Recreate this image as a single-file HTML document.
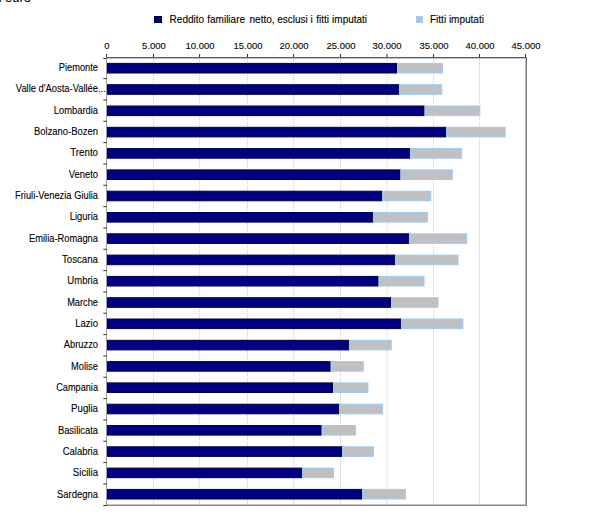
<!DOCTYPE html>
<html><head><meta charset="utf-8"><style>
html,body{margin:0;padding:0;background:#fff;width:610px;height:526px;overflow:hidden;}
body{position:relative;font-family:"Liberation Sans",sans-serif;color:#000;}
div{position:absolute;box-sizing:border-box;}
svg{position:absolute;left:0;top:0;}
.t{white-space:nowrap;font-size:10px;line-height:12px;-webkit-text-stroke:0.1px #000;}
.cl{text-align:right;width:200px;transform-origin:100% 50%;}
.xl{text-align:center;width:60px;transform:scale(0.95,0.92);transform-origin:50% 1px;}
</style></head><body>

<svg width="610" height="526" viewBox="0 0 610 526">
<line x1="153.5" y1="58" x2="153.5" y2="504" stroke="#cccccc" stroke-width="1" stroke-dasharray="1 1" stroke-dashoffset="1"/>
<line x1="199.6" y1="58" x2="199.6" y2="504" stroke="#cccccc" stroke-width="1" stroke-dasharray="1 1" stroke-dashoffset="1"/>
<line x1="247.5" y1="58" x2="247.5" y2="504" stroke="#cccccc" stroke-width="1" stroke-dasharray="1 1" stroke-dashoffset="1"/>
<line x1="293.6" y1="58" x2="293.6" y2="504" stroke="#cccccc" stroke-width="1" stroke-dasharray="1 1" stroke-dashoffset="1"/>
<line x1="340.5" y1="58" x2="340.5" y2="504" stroke="#cccccc" stroke-width="1" stroke-dasharray="1 1" stroke-dashoffset="1"/>
<line x1="387.0" y1="58" x2="387.0" y2="504" stroke="#cccccc" stroke-width="1" stroke-dasharray="1 1" stroke-dashoffset="1"/>
<line x1="433.5" y1="58" x2="433.5" y2="504" stroke="#cccccc" stroke-width="1" stroke-dasharray="1 1" stroke-dashoffset="1"/>
<line x1="479.5" y1="58" x2="479.5" y2="504" stroke="#cccccc" stroke-width="1" stroke-dasharray="1 1" stroke-dashoffset="1"/>
<g shape-rendering="crispEdges">
<rect x="106" y="57" width="421" height="1" fill="#5a5a5a"/>
<rect x="106" y="58" width="420" height="1" fill="#c4c4c4"/>
<rect x="106" y="57" width="1" height="449" fill="#a0a0a0"/>
<rect x="525" y="58" width="1" height="447" fill="#bcbcbc"/>
<rect x="526" y="57" width="1" height="449" fill="#7c7c7c"/>
<rect x="107" y="504" width="418" height="1" fill="#c4c4c4"/>
<rect x="106" y="505" width="421" height="1" fill="#8c8c8c"/>
</g>
<line x1="106.5" y1="54" x2="106.5" y2="57" stroke="#303030" stroke-width="1"/>
<line x1="153.5" y1="54" x2="153.5" y2="57" stroke="#303030" stroke-width="1"/>
<line x1="199.6" y1="54" x2="199.6" y2="57" stroke="#303030" stroke-width="1"/>
<line x1="247.5" y1="54" x2="247.5" y2="57" stroke="#303030" stroke-width="1"/>
<line x1="293.6" y1="54" x2="293.6" y2="57" stroke="#303030" stroke-width="1"/>
<line x1="340.5" y1="54" x2="340.5" y2="57" stroke="#303030" stroke-width="1"/>
<line x1="387.0" y1="54" x2="387.0" y2="57" stroke="#303030" stroke-width="1"/>
<line x1="433.5" y1="54" x2="433.5" y2="57" stroke="#303030" stroke-width="1"/>
<line x1="479.5" y1="54" x2="479.5" y2="57" stroke="#303030" stroke-width="1"/>
<line x1="525.5" y1="54" x2="525.5" y2="57" stroke="#303030" stroke-width="1"/>
<line x1="103.3" y1="58.50" x2="106.8" y2="58.50" stroke="#303030" stroke-width="1"/>
<line x1="103.3" y1="78.63" x2="106.8" y2="78.63" stroke="#303030" stroke-width="1"/>
<line x1="103.3" y1="99.96" x2="106.8" y2="99.96" stroke="#303030" stroke-width="1"/>
<line x1="103.3" y1="121.29" x2="106.8" y2="121.29" stroke="#303030" stroke-width="1"/>
<line x1="103.3" y1="142.62" x2="106.8" y2="142.62" stroke="#303030" stroke-width="1"/>
<line x1="103.3" y1="163.95" x2="106.8" y2="163.95" stroke="#303030" stroke-width="1"/>
<line x1="103.3" y1="185.28" x2="106.8" y2="185.28" stroke="#303030" stroke-width="1"/>
<line x1="103.3" y1="206.61" x2="106.8" y2="206.61" stroke="#303030" stroke-width="1"/>
<line x1="103.3" y1="227.94" x2="106.8" y2="227.94" stroke="#303030" stroke-width="1"/>
<line x1="103.3" y1="249.27" x2="106.8" y2="249.27" stroke="#303030" stroke-width="1"/>
<line x1="103.3" y1="270.60" x2="106.8" y2="270.60" stroke="#303030" stroke-width="1"/>
<line x1="103.3" y1="291.93" x2="106.8" y2="291.93" stroke="#303030" stroke-width="1"/>
<line x1="103.3" y1="313.26" x2="106.8" y2="313.26" stroke="#303030" stroke-width="1"/>
<line x1="103.3" y1="334.59" x2="106.8" y2="334.59" stroke="#303030" stroke-width="1"/>
<line x1="103.3" y1="355.92" x2="106.8" y2="355.92" stroke="#303030" stroke-width="1"/>
<line x1="103.3" y1="377.25" x2="106.8" y2="377.25" stroke="#303030" stroke-width="1"/>
<line x1="103.3" y1="398.58" x2="106.8" y2="398.58" stroke="#303030" stroke-width="1"/>
<line x1="103.3" y1="419.91" x2="106.8" y2="419.91" stroke="#303030" stroke-width="1"/>
<line x1="103.3" y1="441.24" x2="106.8" y2="441.24" stroke="#303030" stroke-width="1"/>
<line x1="103.3" y1="462.57" x2="106.8" y2="462.57" stroke="#303030" stroke-width="1"/>
<line x1="103.3" y1="483.90" x2="106.8" y2="483.90" stroke="#303030" stroke-width="1"/>
<line x1="103.3" y1="505.50" x2="106.8" y2="505.50" stroke="#303030" stroke-width="1"/>
<rect x="107.5" y="63.40" width="289.00" height="9.6" fill="#000080" stroke="#00004c" stroke-width="1"/>
<rect x="397.5" y="63.40" width="45.00" height="9.6" fill="#c0c0c0" stroke="#99ccff" stroke-width="1"/>
<rect x="107.5" y="84.70" width="291.30" height="9.6" fill="#000080" stroke="#00004c" stroke-width="1"/>
<rect x="399.8" y="84.70" width="42.00" height="9.6" fill="#c0c0c0" stroke="#99ccff" stroke-width="1"/>
<rect x="107.5" y="106.00" width="316.60" height="9.6" fill="#000080" stroke="#00004c" stroke-width="1"/>
<rect x="425.1" y="106.00" width="54.70" height="9.6" fill="#c0c0c0" stroke="#99ccff" stroke-width="1"/>
<rect x="107.5" y="127.30" width="338.10" height="9.6" fill="#000080" stroke="#00004c" stroke-width="1"/>
<rect x="446.6" y="127.30" width="58.60" height="9.6" fill="#c0c0c0" stroke="#99ccff" stroke-width="1"/>
<rect x="107.5" y="148.60" width="302.30" height="9.6" fill="#000080" stroke="#00004c" stroke-width="1"/>
<rect x="410.8" y="148.60" width="50.90" height="9.6" fill="#c0c0c0" stroke="#99ccff" stroke-width="1"/>
<rect x="107.5" y="169.90" width="292.50" height="9.6" fill="#000080" stroke="#00004c" stroke-width="1"/>
<rect x="401.0" y="169.90" width="51.30" height="9.6" fill="#c0c0c0" stroke="#99ccff" stroke-width="1"/>
<rect x="107.5" y="191.20" width="274.00" height="9.6" fill="#000080" stroke="#00004c" stroke-width="1"/>
<rect x="382.5" y="191.20" width="48.30" height="9.6" fill="#c0c0c0" stroke="#99ccff" stroke-width="1"/>
<rect x="107.5" y="212.50" width="265.30" height="9.6" fill="#000080" stroke="#00004c" stroke-width="1"/>
<rect x="373.8" y="212.50" width="53.60" height="9.6" fill="#c0c0c0" stroke="#99ccff" stroke-width="1"/>
<rect x="107.5" y="233.80" width="301.20" height="9.6" fill="#000080" stroke="#00004c" stroke-width="1"/>
<rect x="409.7" y="233.80" width="56.90" height="9.6" fill="#c0c0c0" stroke="#99ccff" stroke-width="1"/>
<rect x="107.5" y="255.10" width="287.20" height="9.6" fill="#000080" stroke="#00004c" stroke-width="1"/>
<rect x="395.7" y="255.10" width="62.30" height="9.6" fill="#c0c0c0" stroke="#99ccff" stroke-width="1"/>
<rect x="107.5" y="276.40" width="270.60" height="9.6" fill="#000080" stroke="#00004c" stroke-width="1"/>
<rect x="379.1" y="276.40" width="44.90" height="9.6" fill="#c0c0c0" stroke="#99ccff" stroke-width="1"/>
<rect x="107.5" y="297.70" width="283.00" height="9.6" fill="#000080" stroke="#00004c" stroke-width="1"/>
<rect x="391.5" y="297.70" width="46.50" height="9.6" fill="#c0c0c0" stroke="#99ccff" stroke-width="1"/>
<rect x="107.5" y="319.00" width="293.20" height="9.6" fill="#000080" stroke="#00004c" stroke-width="1"/>
<rect x="401.7" y="319.00" width="61.20" height="9.6" fill="#c0c0c0" stroke="#99ccff" stroke-width="1"/>
<rect x="107.5" y="340.30" width="241.20" height="9.6" fill="#000080" stroke="#00004c" stroke-width="1"/>
<rect x="349.7" y="340.30" width="41.50" height="9.6" fill="#c0c0c0" stroke="#99ccff" stroke-width="1"/>
<rect x="107.5" y="361.60" width="222.70" height="9.6" fill="#000080" stroke="#00004c" stroke-width="1"/>
<rect x="331.2" y="361.60" width="32.10" height="9.6" fill="#c0c0c0" stroke="#99ccff" stroke-width="1"/>
<rect x="107.5" y="382.90" width="225.00" height="9.6" fill="#000080" stroke="#00004c" stroke-width="1"/>
<rect x="333.5" y="382.90" width="34.40" height="9.6" fill="#c0c0c0" stroke="#99ccff" stroke-width="1"/>
<rect x="107.5" y="404.20" width="231.00" height="9.6" fill="#000080" stroke="#00004c" stroke-width="1"/>
<rect x="339.5" y="404.20" width="43.10" height="9.6" fill="#c0c0c0" stroke="#99ccff" stroke-width="1"/>
<rect x="107.5" y="425.50" width="213.70" height="9.6" fill="#000080" stroke="#00004c" stroke-width="1"/>
<rect x="322.2" y="425.50" width="33.20" height="9.6" fill="#c0c0c0" stroke="#99ccff" stroke-width="1"/>
<rect x="107.5" y="446.80" width="234.00" height="9.6" fill="#000080" stroke="#00004c" stroke-width="1"/>
<rect x="342.5" y="446.80" width="31.00" height="9.6" fill="#c0c0c0" stroke="#99ccff" stroke-width="1"/>
<rect x="107.5" y="468.10" width="194.10" height="9.6" fill="#000080" stroke="#00004c" stroke-width="1"/>
<rect x="302.6" y="468.10" width="30.90" height="9.6" fill="#c0c0c0" stroke="#99ccff" stroke-width="1"/>
<rect x="107.5" y="489.40" width="254.00" height="9.6" fill="#000080" stroke="#00004c" stroke-width="1"/>
<rect x="362.5" y="489.40" width="43.10" height="9.6" fill="#c0c0c0" stroke="#99ccff" stroke-width="1"/>
<rect x="154.5" y="16.5" width="7" height="6" fill="#000080" stroke="#00004c" stroke-width="1"/>
<rect x="416.5" y="16.5" width="6" height="6" fill="#c0c0c0" stroke="#99ccff" stroke-width="1"/>
</svg>
<div class="t" style="left:-100px;width:131px;text-align:right;top:-9px;font-size:13px;line-height:14px;">valori in euro</div>
<div class="t" style="left:170px;top:14px;"><span style="position:relative;left:-0.4px;">Reddito</span> familiare <span style="position:relative;left:1.7px;">netto,</span> <span style="position:relative;left:1.5px;">esclusi</span> <span style="position:relative;left:1.6px;">i</span> <span style="position:relative;left:2.2px;">fitti</span> <span style="position:relative;left:2.5px;">imputati</span></div>
<div class="t" style="left:430px;top:14px;">Fitti imputati</div>
<div class="t xl" style="left:77.10px;top:41.4px;">0</div>
<div class="t xl" style="left:123.50px;top:41.4px;">5.000</div>
<div class="t xl" style="left:169.60px;top:41.4px;">10.000</div>
<div class="t xl" style="left:217.50px;top:41.4px;">15.000</div>
<div class="t xl" style="left:263.60px;top:41.4px;">20.000</div>
<div class="t xl" style="left:310.50px;top:41.4px;">25.000</div>
<div class="t xl" style="left:357.00px;top:41.4px;">30.000</div>
<div class="t xl" style="left:403.50px;top:41.4px;">35.000</div>
<div class="t xl" style="left:449.50px;top:41.4px;">40.000</div>
<div class="t xl" style="left:495.90px;top:41.4px;">45.000</div>
<div class="t cl" style="left:-102.5px;top:62.05px;transform:scaleX(0.9269);">Piemonte</div>
<div class="t cl" style="left:-102.5px;top:83.05px;transform:scaleX(0.9368);">Valle d'Aosta-Vallée<span style="position:absolute;left:100%;">...</span></div>
<div class="t cl" style="left:-102.5px;top:105.05px;transform:scaleX(0.9348);">Lombardia</div>
<div class="t cl" style="left:-102.5px;top:126.05px;transform:scaleX(0.9435);">Bolzano-Bozen</div>
<div class="t cl" style="left:-102.5px;top:147.05px;transform:scaleX(0.9726);">Trento</div>
<div class="t cl" style="left:-102.5px;top:169.05px;transform:scaleX(0.9421);">Veneto</div>
<div class="t cl" style="left:-102.5px;top:190.05px;transform:scaleX(0.9328);">Friuli-Venezia Giulia</div>
<div class="t cl" style="left:-102.5px;top:211.05px;transform:scaleX(0.9410);">Liguria</div>
<div class="t cl" style="left:-102.5px;top:233.05px;transform:scaleX(0.9328);">Emilia-Romagna</div>
<div class="t cl" style="left:-102.5px;top:254.05px;transform:scaleX(0.9687);">Toscana</div>
<div class="t cl" style="left:-102.5px;top:275.05px;transform:scaleX(0.9511);">Umbria</div>
<div class="t cl" style="left:-102.5px;top:297.05px;transform:scaleX(0.9252);">Marche</div>
<div class="t cl" style="left:-102.5px;top:318.05px;transform:scaleX(0.9567);">Lazio</div>
<div class="t cl" style="left:-102.5px;top:339.05px;transform:scaleX(0.9335);">Abruzzo</div>
<div class="t cl" style="left:-102.5px;top:361.05px;transform:scaleX(0.9357);">Molise</div>
<div class="t cl" style="left:-102.5px;top:382.05px;transform:scaleX(0.9178);">Campania</div>
<div class="t cl" style="left:-102.5px;top:403.05px;transform:scaleX(0.9692);">Puglia</div>
<div class="t cl" style="left:-102.5px;top:425.05px;transform:scaleX(0.9361);">Basilicata</div>
<div class="t cl" style="left:-102.5px;top:446.05px;transform:scaleX(0.9465);">Calabria</div>
<div class="t cl" style="left:-102.5px;top:467.05px;transform:scaleX(0.9626);">Sicilia</div>
<div class="t cl" style="left:-102.5px;top:489.05px;transform:scaleX(0.9449);">Sardegna</div>
</body></html>
